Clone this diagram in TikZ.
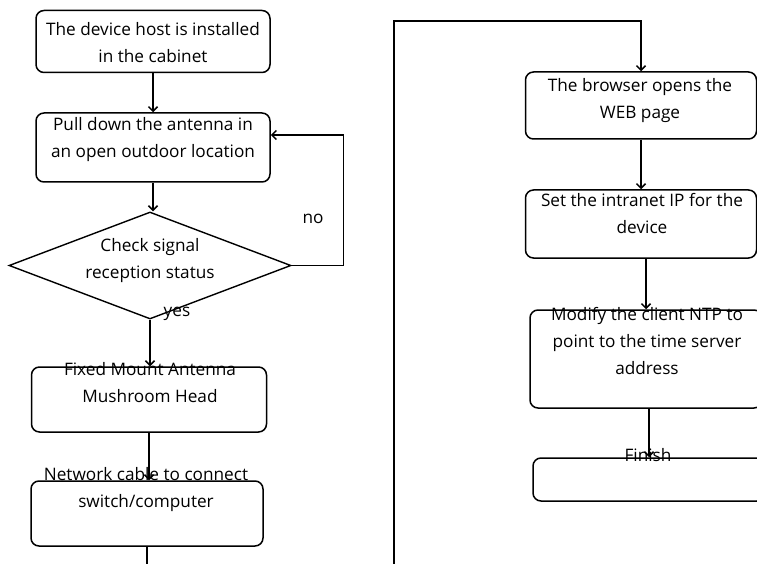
\documentclass[tikz,border=0pt]{standalone}
\usepackage{fontspec}
\setmainfont{Open Sans}
\usetikzlibrary{arrows.meta,positioning,shapes.geometric}

\begin{document}
\begin{tikzpicture}[x=1pt, y=-1pt, font=\fontsize{17.2}{27}\selectfont,
                    txt/.style={align=center, inner sep=0pt}]
    \tikzstyle{box}=[rectangle, rounded corners=8pt, draw=black, line width=1.5pt, minimum width=234pt, inner sep=0pt]
    \tikzstyle{decide}=[diamond, draw=black, line width=1.4pt, minimum width=282pt, minimum height=107pt, inner sep=0pt]
    \tikzstyle{connect}=[-{Straight Barb[length=4.5pt,width=9pt]}, line width=1.5pt]

    \useasboundingbox (0,0) rectangle (757,564);
    \clip (0,0) rectangle (757,564);

      % left column
      \node[box, minimum height=62pt] (host) at (153,41.5) {};
      \node[txt] (hostlbl) at (153,43) {The device host is installed\\in the cabinet};
      \node[box, minimum height=69pt] (pull) at (153,147.5) {};
      \node[txt] (pulllbl) at (153,139.5) {Pull down the antenna in\\an open outdoor location};
      \node[decide] (check) at (150,265.5) {};
      \node[txt] (checklbl) at (150,260.5) {Check signal\\reception status};
      \node[box, minimum width=235pt, minimum height=65pt] (fixed) at (149,399.5) {};
      \node[txt] (fixedlbl) at (150,383) {Fixed Mount Antenna\\Mushroom Head};
      \node[box, minimum width=232pt, minimum height=65pt] (net) at (147,513.5) {};
      \node[txt] (netlbl) at (146,489.5) {Network cable to connect\\switch/computer};
      \node[txt] (no) at (313,218.5) {no};
      \node[txt] (yes) at (177,313.5) {yes};
      \coordinate (netend) at (147,570);

      % right column
      \coordinate (wrap) at (394,570);
      \node[box, minimum width=231pt, minimum height=67pt] (browser) at (641,105.5) {};
      \node[txt] (browserlbl) at (640,100.5) {The browser opens the\\WEB page};
      \node[box, minimum width=231pt, minimum height=68pt] (intranet) at (641,224) {};
      \node[txt] (intranetlbl) at (642,213.5) {Set the intranet IP for the\\device};
      \node[box, minimum width=232pt, minimum height=98pt] (ntp) at (646,359) {};
      \node[txt] (ntplbl) at (647,341) {Modify the client NTP to\\point to the time server\\address};
      \node[box, minimum width=232pt, minimum height=43pt] (finish) at (649,479.5) {};
      \node[txt] (finishlbl) at (648,455.5) {Finish};

      \draw[connect] (host) -- (pull);
      \draw[connect] (pull.south) -- (pull.south |- check.north);
      \draw[connect] (check.east) -- ++(52,0) |- ([yshift=12.5pt]pull.east);
      \draw[connect] (check.south) -- (check.south |- fixed.north);
      \draw[connect] (fixed.south) -- (fixed.south |- net.north);
      \draw[line width=1.5pt] (net.south) -- (netend);
      \draw[connect] (wrap) |- ([yshift=50pt]browser.north) -- (browser.north);
      \draw[connect] (browser.south) -- (intranet.north);
      \draw[connect] (intranet.south -| ntp.north) -- (ntp.north);
      \draw[connect] (ntp.south -| finish.north) -- (finish.north);
    \end{tikzpicture}
\end{document}
